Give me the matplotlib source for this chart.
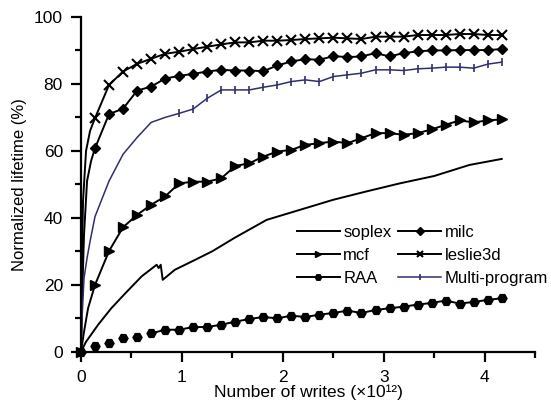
import matplotlib
matplotlib.use("Agg")
import matplotlib.pyplot as plt
from matplotlib.ticker import MultipleLocator

plt.rcParams['font.family'] = ['Liberation Sans', 'DejaVu Sans']

grid = [0, 0.139, 0.278, 0.417, 0.556, 0.695, 0.834, 0.973, 1.112, 1.251, 1.39,
        1.529, 1.668, 1.807, 1.946, 2.085, 2.224, 2.363, 2.502, 2.641, 2.78,
        2.919, 3.058, 3.197, 3.336, 3.475, 3.614, 3.753, 3.892, 4.031, 4.17]

soplex_x = [0, 0.05, 0.17, 0.3, 0.44, 0.6, 0.75, 0.77, 0.79, 0.81, 0.93, 1.1, 1.3,
            1.52, 1.84, 2.17, 2.5, 2.83, 3.16, 3.5, 3.85, 4.17]
soplex_y = [0, 3, 8.1, 13, 17.5, 22.5, 26, 25, 26, 21.5, 24.5, 27, 30, 34, 39.4,
            42.4, 45.4, 47.9, 50.3, 52.5, 55.8, 57.6]

mcf_early_x = [0, 0.03, 0.07]
mcf_early_y = [0, 6, 13]
mcf_y = [20.0, 30.1, 37.2, 40.9, 43.9, 46.4, 50.3, 50.8, 50.8, 51.8, 55.5, 56.3,
         58.3, 59.8, 60.3, 61.8, 62.3, 62.8, 62.3, 63.8, 65.3, 65.3, 64.8, 65.3,
         66.4, 67.8, 69.1, 68.5, 69.1, 69.4]

raa_y = [0, 1.8, 2.6, 4.0, 4.5, 5.5, 6.6, 6.6, 7.4, 7.4, 8.1, 9.0, 9.8, 10.4, 10.0,
         10.8, 10.4, 11.1, 11.6, 12.3, 11.6, 12.5, 13.0, 13.5, 14.1, 14.6, 15.3,
         14.4, 14.9, 15.5, 16.0]

milc_early_x = [0, 0.01, 0.03, 0.06, 0.1]
milc_early_y = [0, 15, 35, 51, 57]
milc_y = [60.8, 71.0, 72.6, 78.0, 79.2, 81.6, 82.4, 83.0, 83.7, 84.2, 84.0, 84.0,
          83.8, 85.5, 86.7, 87.4, 87.2, 88.3, 88.0, 88.2, 89.2, 88.2, 89.2, 89.7,
          90.0, 90.0, 90.1, 90.1, 90.1, 90.4]

leslie_early_x = [0, 0.005, 0.02, 0.05, 0.09]
leslie_early_y = [0, 20, 45, 60, 66]
leslie_y = [69.8, 79.7, 83.7, 86.0, 87.5, 89.0, 89.6, 90.4, 91.1, 91.8, 92.4, 92.4,
            92.9, 92.9, 93.1, 93.4, 93.6, 93.8, 93.6, 93.4, 94.1, 94.1, 94.1, 94.6,
            94.6, 94.6, 94.9, 94.9, 94.6, 94.6]

multi_early_x = [0, 0.01, 0.03, 0.06, 0.09]
multi_early_y = [0, 10, 22, 28, 33]
multi_y = [40.4, 51, 59, 64, 68.5, 70, 71.2, 72.5, 75.7, 78.2, 78.2, 78.2, 79.0,
           79.7, 80.7, 81.2, 80.7, 82.2, 82.7, 83.2, 84.2, 84.2, 84.0, 84.5, 84.7,
           85.0, 85.0, 84.7, 85.9, 86.5]

labels = ["soplex", "mcf", "RAA", "milc", "leslie3d", "Multi-program"]
navy = "#2f2f6e"

fig = plt.figure(figsize=(5.51, 4.03), dpi=100)
ax = fig.add_axes([0.147, 0.127, 0.824, 0.831])

lw = 1.4
# soplex
ax.plot(soplex_x, soplex_y, color="black", lw=lw, label=labels[0])
# mcf
x = mcf_early_x + grid[1:]
y = mcf_early_y + mcf_y
ax.plot(x, y, color="black", lw=lw, marker=">", ms=6.5,
        markevery=[0] + list(range(len(mcf_early_x), len(x))), label=labels[1], clip_on=False)
# RAA
ax.plot(grid[:5], raa_y[:5], ls="none", color="black", marker="H", ms=6.5, clip_on=False)
ax.plot(grid[5:], raa_y[5:], color="black", lw=lw, marker="H", ms=6.5, label=labels[2])
# milc
x = milc_early_x + grid[1:]
y = milc_early_y + milc_y
ax.plot(x, y, color="black", lw=lw, marker="D", ms=5.5,
        markevery=list(range(len(milc_early_x), len(x))), label=labels[3])
# leslie3d
x = leslie_early_x + grid[1:]
y = leslie_early_y + leslie_y
ax.plot(x, y, color="black", lw=lw, marker="x", ms=6.5, mew=1.5,
        markevery=list(range(len(leslie_early_x), len(x))), label=labels[4])
# Multi-program
x = multi_early_x + grid[1:]
y = multi_early_y + multi_y
ax.plot(x, y, color=navy, lw=1.1, marker="|", ms=6, mew=1.2,
        markevery=list(range(len(multi_early_x) + 6, len(x))), label=labels[5])

ax.set_xlim(0, 4.5)
ax.set_ylim(0, 100)
ax.xaxis.set_major_locator(MultipleLocator(1))
ax.xaxis.set_minor_locator(MultipleLocator(0.5))
ax.yaxis.set_major_locator(MultipleLocator(20))
ax.yaxis.set_minor_locator(MultipleLocator(10))
for s in ["top", "right"]:
    ax.spines[s].set_visible(False)
for s in ["left", "bottom"]:
    ax.spines[s].set_linewidth(1.6)
ax.tick_params(which="major", direction="out", length=7, width=1.6, labelsize=12.5, pad=6)
ax.tick_params(which="minor", direction="out", length=4.5, width=1.6)

ax.set_xlabel("Number of writes (×10¹²)", fontsize=12.5, labelpad=0)
ax.set_ylabel("Normalized lifetime (%)", fontsize=12, labelpad=5)

h, l = ax.get_legend_handles_labels()
ax.legend(h, l, ncol=2, loc="upper left", bbox_to_anchor=(0.46, 0.40), frameon=False,
          fontsize=12, handlelength=2.6, handletextpad=0.2, columnspacing=0.4,
          labelspacing=0.5, markerscale=0.7, borderaxespad=0)

fig.savefig("out.png", dpi=100)
